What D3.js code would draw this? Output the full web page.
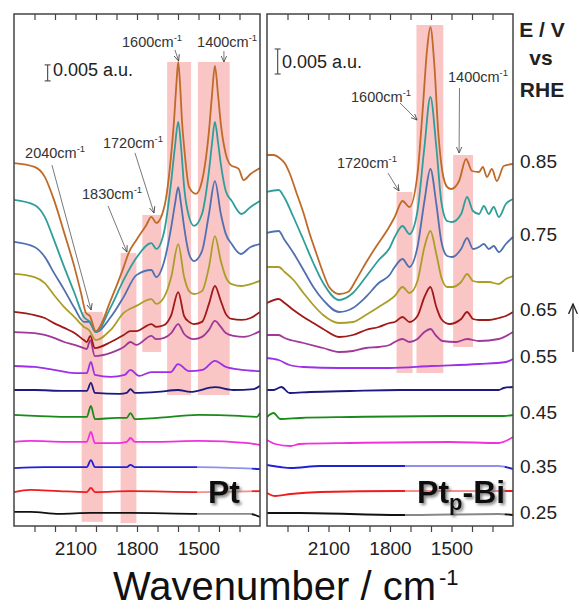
<!DOCTYPE html>
<html>
<head>
<meta charset="utf-8">
<script src="https://cdn.jsdelivr.net/npm/d3@7"></script>
<style>
  body { margin: 0; background: #fff; }
  text { font-family: "Liberation Sans", Arial, sans-serif; }
</style>
</head>
<body>
<script>
// potentials (V vs RHE), bottom curve first
var potentials = ["0.25", "0.30", "0.35", "0.40", "0.45", "0.50", "0.55", "0.60", "0.65", "0.70", "0.75", "0.80", "0.85"];
var labelledPotentials = ["0.85", "0.75", "0.65", "0.55", "0.45", "0.35", "0.25"];
var tickLabels = [2100, 1800, 1500];
var minorTicks = [2300, 2200, 2100, 2000, 1900, 1800, 1700, 1600, 1500, 1400, 1300];

// spectra: [wavenumber cm-1, intensity in 10^-3 a.u. incl. offset]
var ptSpectra = [
  [[2400,4.4],[2320,4.4],[2180,3.8],[2025,4.1],[1832,4.1],[1500,3.8],[1250,3.8],[1200,2.8]],
  [[2400,10.6],[2320,11.3],[2180,10.9],[2045,10.6],[2025,11.9],[2005,10.6],[1832,10.9],[1500,10.6],[1200,10.9]],
  [[2400,18.1],[2250,18.4],[2045,18.4],[2025,20.6],[2005,18.4],[1850,18.4],[1832,19.1],[1810,18.4],[1500,18.4],[1200,17.8]],
  [[2400,26.3],[2320,26.6],[2150,26.3],[2045,26.3],[2025,29.4],[2005,25.9],[1900,25.9],[1850,26.3],[1832,27.5],[1810,26.3],[1700,26.3],[1500,26.6],[1256,25.9],[1200,25.3]],
  [[2400,34.7],[2300,34.4],[2150,34.1],[2045,34.1],[2025,37.5],[2005,33.4],[1900,33.8],[1850,33.8],[1832,35.3],[1810,33.4],[1700,33.8],[1500,34.7],[1300,34.4],[1215,34.1],[1200,35.3]],
  [[2400,42.5],[2300,42.5],[2155,42.2],[2045,42.2],[2025,44.7],[2005,41.6],[1885,41.3],[1850,41.6],[1832,42.8],[1810,41.6],[1700,41.9],[1600,42.5],[1540,41.9],[1420,43.4],[1330,42.5],[1230,42.8],[1200,43.8]],
  [[2400,50],[2300,49.7],[2205,48.8],[2105,47.8],[2045,47.8],[2025,51.3],[2005,47.2],[1928,46.6],[1860,47.2],[1832,48.8],[1790,46.9],[1730,48.1],[1635,48.1],[1600,50.6],[1546,48.4],[1480,48.8],[1420,51.6],[1367,49.7],[1290,48.8],[1200,48.4]],
  [[2400,60.6],[2300,60.3],[2250,59.7],[2205,58.8],[2155,57.5],[2105,56.6],[2059,55.6],[2045,55.3],[2028,58.1],[2006,53.1],[1928,54.1],[1865,55.9],[1832,57.5],[1803,56.6],[1730,59.4],[1706,58.4],[1667,58.8],[1633,60.3],[1599,63.1],[1570,60],[1546,58.8],[1522,58.4],[1483,59.1],[1449,61.3],[1420,64.1],[1391,62.2],[1367,60.3],[1328,59.4],[1280,59.1],[1200,60.9]],
  [[2400,66.9],[2300,65.9],[2250,65],[2205,63.4],[2155,61.9],[2105,60.3],[2059,58.1],[2045,57.5],[2028,59.4],[2006,55.6],[1928,57.5],[1865,59.7],[1832,60.9],[1803,60.9],[1730,63.1],[1706,62.2],[1667,62.8],[1633,65.9],[1599,73.1],[1570,65.6],[1546,63.8],[1522,63.1],[1483,63.8],[1449,69.4],[1420,75],[1391,70.3],[1367,66.3],[1338,64.7],[1290,64.4],[1246,65],[1200,66.9]],
  [[2400,78.8],[2300,77.8],[2250,75.9],[2205,72.2],[2155,68.4],[2105,65.3],[2059,62.2],[2035,61.3],[2001,58.1],[1928,61.3],[1865,66.6],[1803,68.8],[1730,70.9],[1706,69.4],[1667,71.6],[1633,77.8],[1599,88.1],[1570,77.8],[1546,73.4],[1522,72.5],[1483,73.4],[1449,80.9],[1420,90.6],[1391,82.8],[1367,77.8],[1338,75.6],[1290,75],[1246,75.6],[1200,76.6]],
  [[2400,88.8],[2300,87.2],[2250,84.1],[2205,79.1],[2155,73.8],[2105,68.1],[2059,63.8],[2035,63.8],[2001,60.6],[1928,65.3],[1865,71.6],[1803,78.4],[1730,80],[1706,77.8],[1667,82.8],[1633,93.4],[1615,100.5],[1599,105.9],[1585,100.5],[1570,93.4],[1546,85],[1522,82.8],[1483,85.9],[1449,97.5],[1420,107.8],[1391,97.5],[1367,91.3],[1338,88.1],[1294,85],[1246,87.2],[1200,88.1]],
  [[2400,101.9],[2300,100.3],[2250,96.6],[2205,89.4],[2155,80.9],[2105,72.8],[2059,65.3],[2030,63.8],[2001,60.6],[1928,68.4],[1865,76.9],[1803,83.8],[1730,88.4],[1706,86.6],[1667,92.2],[1633,107.8],[1615,118.5],[1599,126.3],[1585,118.5],[1570,105.9],[1546,96.6],[1522,93.8],[1483,97.5],[1449,110.9],[1435,119],[1420,126.3],[1405,120],[1391,113.1],[1367,104.7],[1338,101.6],[1290,97.5],[1246,99.7],[1200,101.6]],
  [[2400,113.4],[2300,112.2],[2250,109.1],[2205,101.9],[2155,91.6],[2105,80.9],[2073,72.8],[2049,66.6],[2030,65.6],[2001,60.9],[1928,70.6],[1865,80.9],[1841,85.3],[1803,89.4],[1755,94],[1730,96.6],[1706,94.7],[1667,99.7],[1633,116.3],[1619,127],[1608,138],[1599,145],[1590,138],[1580,126],[1570,118.4],[1546,105.9],[1512,103.8],[1483,107.8],[1449,123.4],[1435,134],[1420,143.8],[1405,135],[1391,125.6],[1367,116.3],[1343,112.8],[1304,111.6],[1280,108.1],[1246,110],[1200,111.9]]
];

var ptBiSpectra = [
  [[2400,2.6],[2240,2.6],[1750,2.2],[1270,2.4],[1200,2.2]],
  [[2400,6.6],[2360,6],[2285,6.4],[2140,6.8],[1750,7],[1270,7],[1200,7]],
  [[2400,12.2],[2335,11.8],[2285,11.6],[2140,12],[1750,12],[1270,12],[1200,11.4]],
  [[2400,17.2],[2360,16.4],[2285,16],[2240,16.4],[1995,16.6],[1510,16.8],[1270,16.6],[1200,17.8]],
  [[2400,21.8],[2368,22.6],[2335,21.4],[2240,21.6],[1995,21.8],[1510,22],[1245,22],[1200,22.2]],
  [[2400,27.2],[2368,27.2],[2330,27.8],[2290,26.6],[2190,26.8],[1995,27],[1750,27.2],[1500,27.2],[1270,27.2],[1245,27.6],[1200,27.8]],
  [[2400,33.6],[2343,33.2],[2290,32.2],[2222,31.8],[2048,31.6],[1802,31.6],[1600,32],[1366,32.4],[1235,32.8],[1200,33.4]],
  [[2400,38.2],[2343,38.2],[2314,37.6],[2222,36.6],[2126,35.6],[2048,34.8],[1981,35],[1918,35.6],[1855,35.8],[1802,36.2],[1777,36.8],[1739,37.4],[1705,36.8],[1666,37.4],[1632,38.8],[1603,39.4],[1574,38],[1545,37],[1477,36.8],[1424,37.4],[1366,37],[1269,37.4],[1200,38.8]],
  [[2400,44.6],[2343,45.4],[2314,44.6],[2271,43.2],[2222,41.8],[2174,40.6],[2126,39.4],[2048,37.8],[1981,38.2],[1918,39.2],[1855,39.8],[1802,40.6],[1777,40.8],[1739,41.8],[1705,40.8],[1666,42],[1632,45.8],[1603,47.8],[1574,43.8],[1550,41.4],[1511,40.4],[1453,41.4],[1424,42.8],[1395,41.4],[1366,41.2],[1318,41.2],[1269,41.6],[1235,42],[1200,42.8]],
  [[2400,51.8],[2343,51.8],[2314,50.8],[2271,49.2],[2222,46.6],[2174,44.2],[2126,42.2],[2048,40.6],[1981,40.8],[1918,42.2],[1855,43.8],[1802,45.2],[1777,46],[1739,47.8],[1705,46.6],[1666,49],[1632,55.8],[1603,59],[1574,54.4],[1550,49.8],[1521,47.8],[1497,47.8],[1453,48.8],[1424,50.4],[1395,49],[1366,48.8],[1318,48.8],[1269,48.4],[1235,49.4],[1200,50]],
  [[2400,58.6],[2343,59],[2314,57.2],[2271,54.6],[2222,51.2],[2174,47.8],[2126,45.2],[2048,42.8],[1981,43.6],[1918,45.8],[1855,48.6],[1802,50.2],[1777,51.8],[1739,53.4],[1705,51.8],[1666,55.8],[1632,65],[1603,71.4],[1574,64.4],[1550,57],[1521,54],[1497,53.8],[1453,55.4],[1424,57.6],[1395,55.4],[1366,55.8],[1342,56.4],[1318,55.4],[1294,56],[1269,54.8],[1235,56.4],[1200,57.8]],
  [[2400,66.8],[2343,67.2],[2314,65.6],[2271,61.8],[2222,57.2],[2174,52.6],[2126,48.6],[2048,45.2],[1981,46.6],[1918,49.8],[1855,53.2],[1802,55.6],[1777,57.8],[1739,60],[1705,58.4],[1666,63],[1632,75.8],[1603,85.8],[1574,75.8],[1550,65],[1521,61],[1497,60.8],[1453,62.4],[1424,65.8],[1395,63],[1366,62.4],[1342,64],[1318,62.4],[1294,63.8],[1269,61.8],[1235,64.4],[1200,65.4]],
  [[2400,74.2],[2368,74.2],[2339,73.6],[2314,72.6],[2290,70.6],[2256,66.6],[2222,62.6],[2193,58.6],[2160,54.6],[2126,50.6],[2097,47.8],[2048,46.4],[2005,46.8],[1966,49.2],[1918,52.6],[1869,55.8],[1807,59.6],[1777,61.8],[1739,65],[1705,63.8],[1666,70.4],[1642,82.4],[1618,95.8],[1603,99.8],[1584,92.4],[1565,79],[1545,71],[1521,67.8],[1502,67.4],[1463,69],[1429,73.4],[1400,71],[1366,70.8],[1347,71.8],[1327,69.8],[1303,71.4],[1279,69],[1245,72],[1200,72.4]]
];

// highlighted bands: [from cm-1, to cm-1, top, bottom]
var ptBands = [[2070, 1967, 66.9, 1.3], [1880, 1803, 85.3, 0.9], [1774, 1682, 97.2, 54.4], [1653, 1536, 145, 40.9], [1503, 1348, 145, 40.9]];
var ptBiBands = [[1768, 1690, 66.8, 30.6], [1671, 1540, 100.2, 30.6], [1492, 1395, 74.2, 35.8]];

var colors = ["#111111", "#ee1c1c", "#2020d8", "#f030e0", "#1a8a1a", "#1a1a80", "#9b30e8",
  "#a03898", "#a01818", "#aa9e28", "#5070b0", "#2e9e9a", "#c06a28"];

var svg = d3.select("body").append("svg").attr("width", 579).attr("height", 610);
var defs = svg.append("defs");

function addMarker(id, size, color) {
  defs.append("marker").attr("id", id)
    .attr("viewBox", "0 0 10 10").attr("refX", 9).attr("refY", 5)
    .attr("markerUnits", "userSpaceOnUse").attr("markerWidth", size).attr("markerHeight", size)
    .attr("orient", "auto")
    .append("path").attr("d", "M0,1 L9,5 L0,9").attr("fill", "none").attr("stroke", color).attr("stroke-width", 1.2);
}
addMarker("arr", 7, "#444");
addMarker("arrBig", 11, "#222");

var shadow = defs.append("filter").attr("id", "shadow").attr("x", "-20%").attr("y", "-20%").attr("width", "160%").attr("height", "160%");
shadow.append("feDropShadow").attr("dx", 2).attr("dy", 2).attr("stdDeviation", 1.6)
  .attr("flood-color", "#666").attr("flood-opacity", 0.8);

var plotTop = 14, plotBottom = 526;

function drawPanel(opt) {
  var x = d3.scaleLinear().domain([2400, 1200]).range([opt.x0, opt.x1]);
  var y = d3.scaleLinear().domain([0, opt.yMax]).range([plotBottom, plotTop]);
  var g = svg.append("g");

  defs.append("clipPath").attr("id", opt.id + "clip")
    .append("rect").attr("x", opt.x0).attr("y", plotTop).attr("width", opt.x1 - opt.x0).attr("height", plotBottom - plotTop);

  g.selectAll("rect.band").data(opt.bands).enter().append("rect")
    .attr("class", "band")
    .attr("x", function(d) { return x(d[0]); })
    .attr("width", function(d) { return x(d[1]) - x(d[0]); })
    .attr("y", function(d) { return y(d[2]); })
    .attr("height", function(d) { return y(d[3]) - y(d[2]); })
    .attr("fill", "#f9c5c5");

  var line = d3.line()
    .x(function(d) { return x(d[0]); })
    .y(function(d) { return y(d[1]); })
    .curve(d3.curveMonotoneX);

  g.append("g").attr("clip-path", "url(#" + opt.id + "clip)")
    .selectAll("path").data(opt.spectra).enter().append("path")
    .attr("d", line)
    .attr("fill", "none")
    .attr("stroke", function(d, i) { return colors[i]; })
    .attr("stroke-width", 1.8);

  // scale bar
  var sb = opt.scaleBar;
  g.append("line").attr("x1", x(sb.wn)).attr("x2", x(sb.wn)).attr("y1", y(sb.v)).attr("y2", y(sb.v + 5))
    .attr("stroke", "#555").attr("stroke-width", 1.2);
  [sb.v, sb.v + 5].forEach(function(v) {
    g.append("line").attr("x1", x(sb.wn) - 3).attr("x2", x(sb.wn) + 3).attr("y1", y(v)).attr("y2", y(v))
      .attr("stroke", "#555").attr("stroke-width", 1.2);
  });
  g.append("text").attr("x", x(sb.twn)).attr("y", y(sb.tv))
    .attr("font-size", 18).attr("fill", "#222").text("0.005 a.u.");

  // peak annotations
  opt.notes.forEach(function(n) {
    g.append("line")
      .attr("x1", x(n.from[0])).attr("y1", y(n.from[1]))
      .attr("x2", x(n.to[0])).attr("y2", y(n.to[1]))
      .attr("stroke", "#555").attr("stroke-width", 0.8)
      .attr("marker-end", "url(#arr)");
    var t = g.append("text").attr("x", x(n.x)).attr("y", y(n.y))
      .attr("font-size", 14.5).attr("fill", "#333");
    t.append("tspan").text(n.text + "cm");
    t.append("tspan").attr("font-size", 9.5).attr("dy", -6).text("-1");
  });

  // fading box behind sample label
  var lb = opt.label;
  g.append("rect").attr("x", x(lb.box[0])).attr("width", x(lb.box[1]) - x(lb.box[0]))
    .attr("y", y(lb.box[2])).attr("height", y(lb.box[3]) - y(lb.box[2]))
    .attr("fill", "#fff").attr("opacity", 0.5);
  var lt = g.append("text").attr("x", x(lb.wn)).attr("y", y(lb.v))
    .attr("font-size", 32).attr("font-weight", "bold").attr("fill", "#111")
    .attr("filter", "url(#shadow)");
  lt.append("tspan").text("Pt");
  if (lb.sub) {
    lt.append("tspan").attr("font-size", 22).attr("dy", 7).text("p");
    lt.append("tspan").attr("dy", -7).text("-Bi");
  }

  // axes
  var bottomAxis = d3.axisBottom(x).tickValues(minorTicks).tickSize(6).tickPadding(9.5)
    .tickFormat(function(d) { return tickLabels.indexOf(d) >= 0 ? d : ""; });
  var ax = g.append("g").attr("transform", "translate(0," + plotBottom + ")").call(bottomAxis);
  ax.select(".domain").remove();
  ax.selectAll("line").attr("stroke", "#444").attr("stroke-width", 1.2);
  ax.selectAll("text").attr("font-size", 19).attr("fill", "#222")
    .attr("font-family", "'Liberation Sans', Arial, sans-serif");

  var topAxis = d3.axisBottom(x).tickValues(minorTicks).tickSize(6).tickFormat("");
  var tx = g.append("g").attr("transform", "translate(0," + plotTop + ")").call(topAxis);
  tx.select(".domain").remove();
  tx.selectAll("line").attr("stroke", "#444").attr("stroke-width", 1.2);

  g.append("rect").attr("x", opt.x0).attr("y", plotTop).attr("width", opt.x1 - opt.x0).attr("height", plotBottom - plotTop)
    .attr("fill", "none").attr("stroke", "#444").attr("stroke-width", 1.5);

  return { x: x, y: y };
}

drawPanel({
  id: "pt", x0: 14, x1: 260, yMax: 160, spectra: ptSpectra, bands: ptBands,
  scaleBar: { wn: 2236, v: 139.1, twn: 2210, tv: 140.6 },
  notes: [
    { text: "2040", x: 2346, y: 115, from: [2215, 112.8], to: [2024, 67.5] },
    { text: "1830", x: 2068, y: 102.2, from: [1941, 100], to: [1849, 85.6] },
    { text: "1720", x: 1966, y: 118.1, from: [1810, 116.6], to: [1717, 97.8] },
    { text: "1600", x: 1873, y: 149.7, from: [1615, 148.8], to: [1597, 145.3] },
    { text: "1400", x: 1507, y: 149.7, from: [1376, 148.4], to: [1376, 145] }
  ],
  label: { wn: 1454, v: 7.2, box: [1507, 1240, 22.2, 2.5], sub: false }
});

var right = drawPanel({
  id: "ptbi", x0: 267, x1: 513, yMax: 102.4, spectra: ptBiSpectra, bands: ptBiBands,
  scaleBar: { wn: 2348, v: 90.4, twn: 2327, tv: 91.6 },
  notes: [
    { text: "1720", x: 2059, y: 71.6, from: [1810, 70.6], to: [1756, 67] },
    { text: "1600", x: 1990, y: 84.8, from: [1751, 84.6], to: [1668, 81.2] },
    { text: "1400", x: 1517, y: 88.8, from: [1461, 87.6], to: [1463, 74.6] }
  ],
  label: { wn: 1668, v: 4.6, box: [1727, 1240, 14.2, 1.6], sub: true }
});

// potential labels on the right, next to the Pt_p-Bi curve ends
svg.append("g").selectAll("text").data(labelledPotentials).enter().append("text")
  .attr("x", 520)
  .attr("y", function(d) {
    var s = ptBiSpectra[potentials.indexOf(d)];
    return right.y(s[s.length - 1][1]);
  })
  .attr("dy", "0.22em")
  .attr("font-size", 19).attr("fill", "#222")
  .text(function(d) { return d; });

var head = svg.append("g").attr("font-weight", "bold").attr("font-size", 21).attr("fill", "#222").attr("text-anchor", "middle");
head.append("text").attr("x", 542).attr("y", 37).text("E / V");
head.append("text").attr("x", 541).attr("y", 65).text("vs");
head.append("text").attr("x", 542).attr("y", 97).text("RHE");

// direction arrow
svg.append("line").attr("x1", 573).attr("x2", 573).attr("y1", 352).attr("y2", 304)
  .attr("stroke", "#222").attr("stroke-width", 1.3).attr("marker-end", "url(#arrBig)");

var title = svg.append("text").attr("x", 113).attr("y", 600).attr("font-size", 40).attr("fill", "#111");
title.append("tspan").text("Wavenumber / cm");
title.append("tspan").attr("font-size", 22).attr("dx", 3).attr("dy", -15).text("-1");
</script>
</body>
</html>
